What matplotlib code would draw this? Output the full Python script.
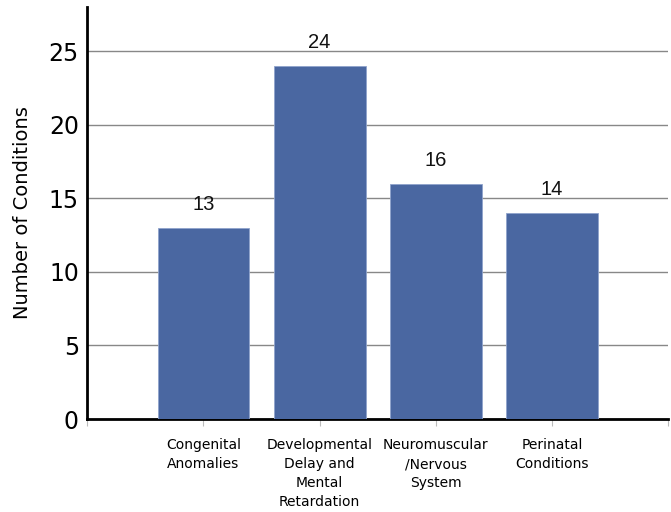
import matplotlib
matplotlib.use("Agg")
import matplotlib.pyplot as plt

categories = ["Congenital\nAnomalies", "Developmental\nDelay and\nMental\nRetardation",
              "Neuromuscular\n/Nervous\nSystem", "Perinatal\nConditions"]
values = [13, 24, 16, 14]
yticks = [0, 5, 10, 15, 20, 25]

fig = plt.figure(figsize=(6.71, 5.12), dpi=100)
ax = fig.add_axes([0.130, 0.1816, 0.866, 0.8047])

positions = list(range(1, len(values) + 1))
bars = ax.bar(positions, values, width=0.79, color="#4a67a1", edgecolor="#8fa3cc", linewidth=0.6, zorder=3)
for p, v in zip(positions, values):
    ax.text(p, v + 0.95, str(v), ha="center", va="bottom", fontsize=14.5,
            family="Liberation Sans", color="#111111")

ax.set_xlim(0, len(values) + 1)
ax.set_ylim(0, 28)
ax.set_yticks(yticks)
ax.set_yticklabels([str(t) for t in yticks], fontsize=17, family="DejaVu Sans")
ax.tick_params(axis="y", length=0, pad=6)
ax.set_xticks([0] + positions + [len(values) + 1])
ax.set_xticklabels([""] + categories + [""], fontsize=10, family="DejaVu Sans", linespacing=1.45)
ax.tick_params(axis="x", length=5, color="#bbbbbb", pad=9)
ax.yaxis.grid(True, color="#888888", linewidth=1.0, zorder=0)
ax.set_axisbelow(True)
for s in ["top", "right"]:
    ax.spines[s].set_visible(False)
ax.spines["left"].set_linewidth(2)
ax.spines["bottom"].set_linewidth(2)
ax.set_ylabel("Number of Conditions", fontsize=14, family="DejaVu Sans", labelpad=12)

fig.savefig("out.png", dpi=100)
